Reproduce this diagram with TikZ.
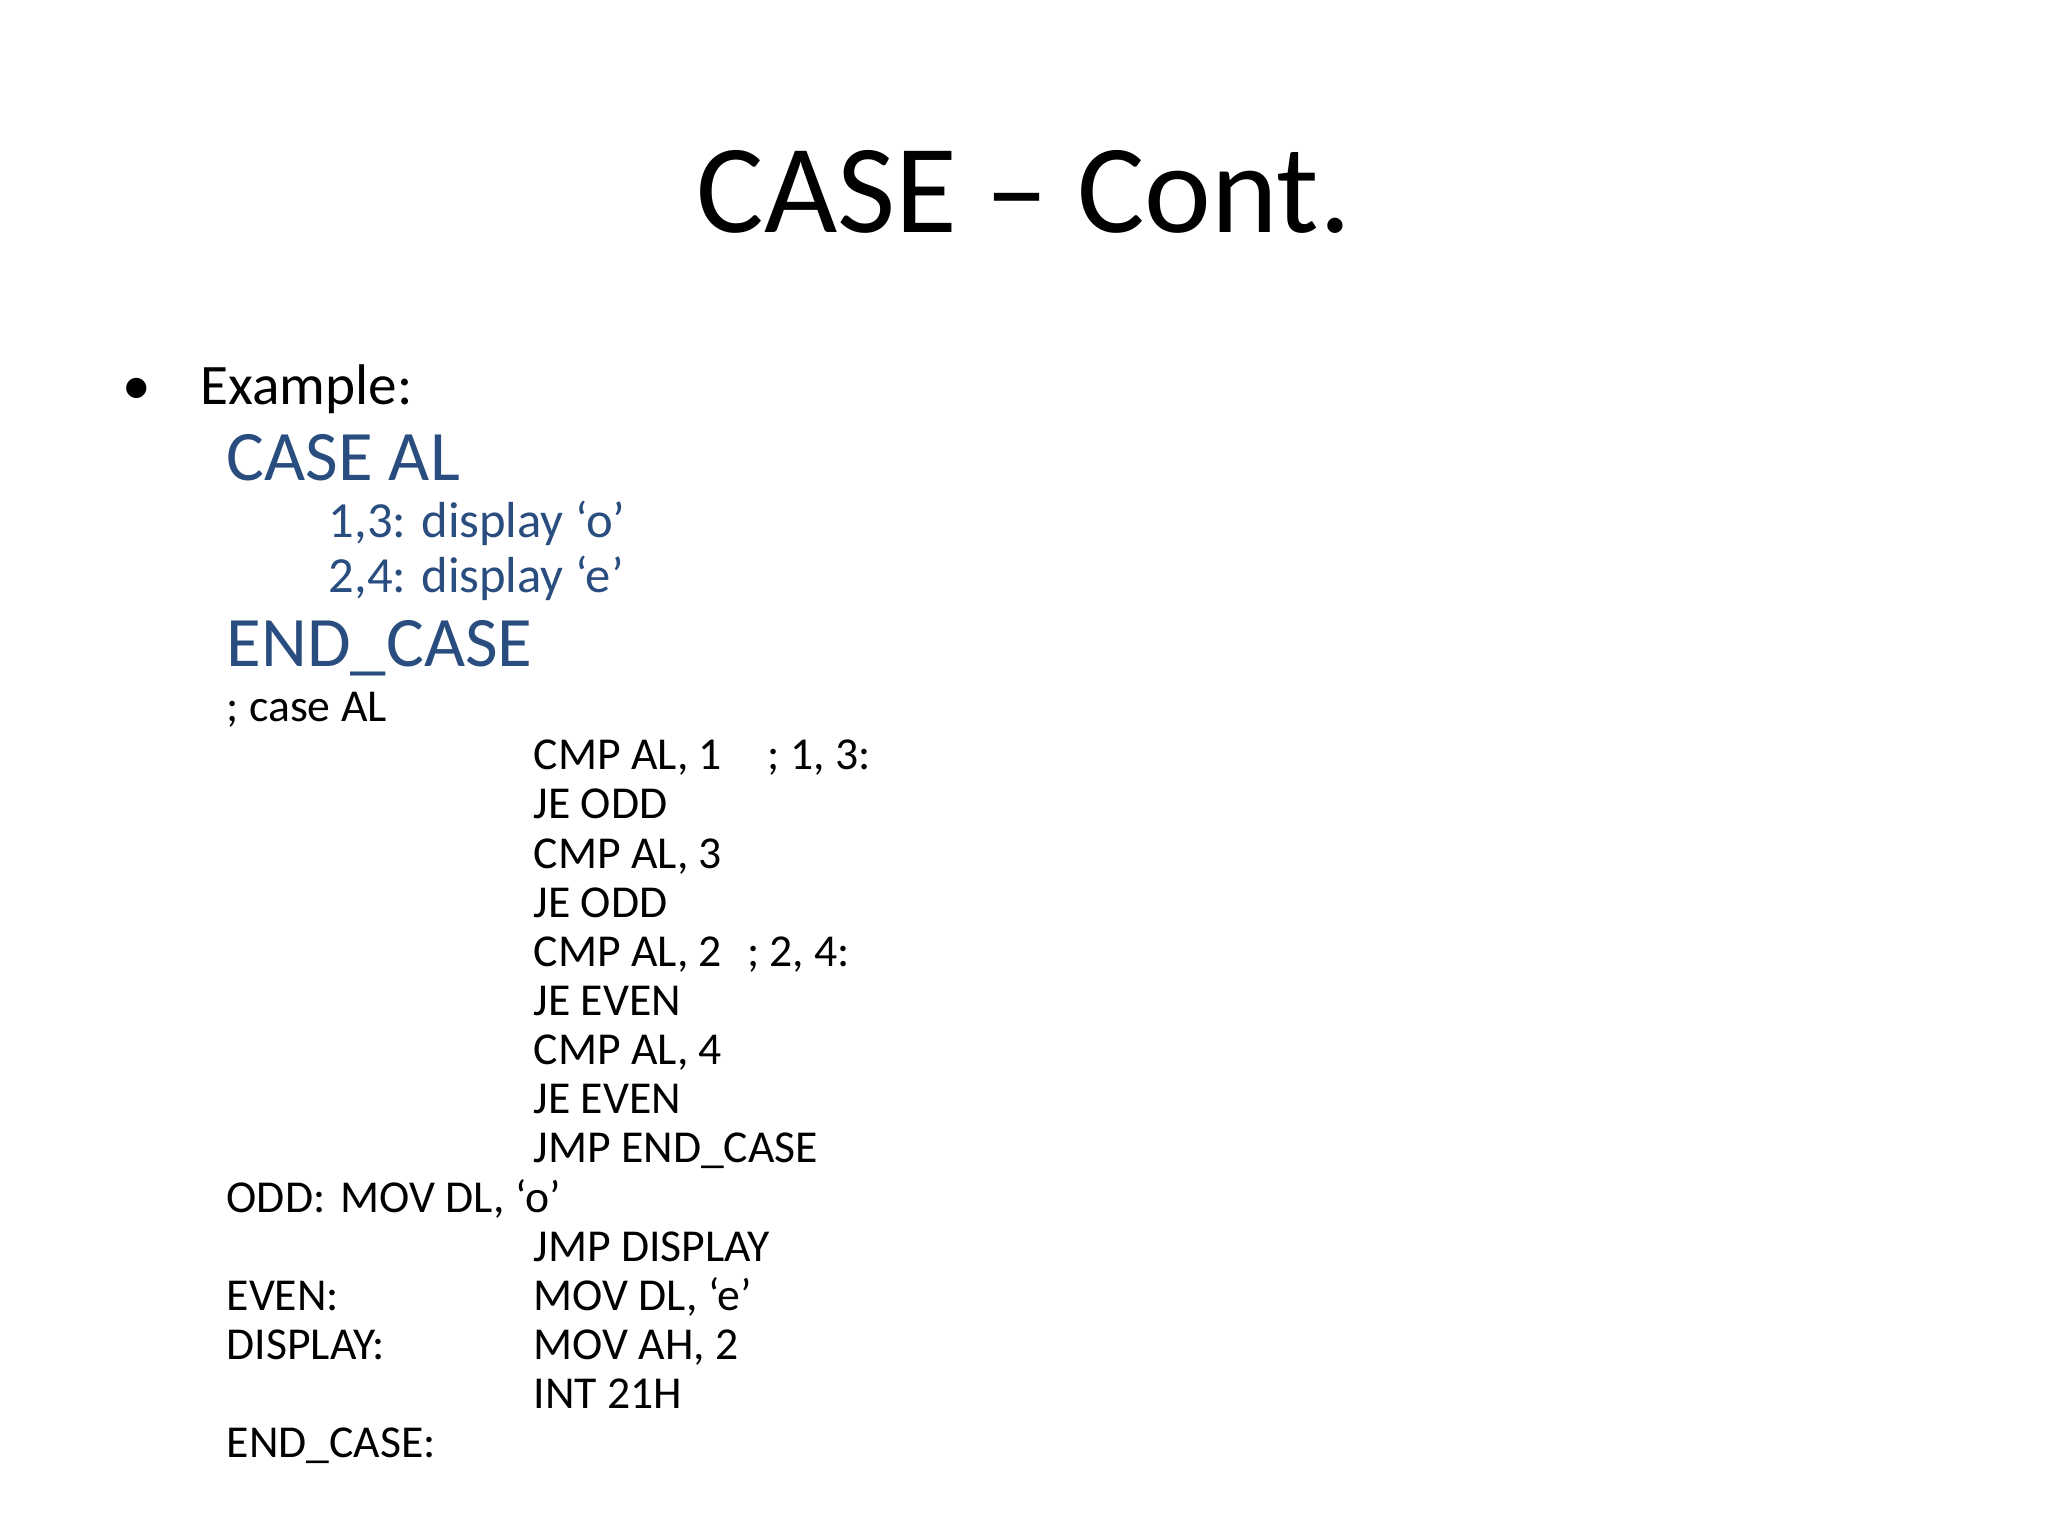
\documentclass[tikz,border=0pt]{standalone}
\usepackage{fontspec}
\setmainfont{Carlito}
\definecolor{slideblue}{HTML}{2A4D7F}
\begin{document}
\begin{tikzpicture}[x=1cm,y=1cm,
  txt/.style={anchor=base west,inner sep=0pt,font=\fontsize{16.3}{19}\selectfont},
  code/.style={anchor=base west,inner sep=0pt,font=\fontsize{13}{16}\selectfont},
  big/.style={anchor=base west,inner sep=0pt,text=slideblue,font=\fontsize{20.2}{24}\selectfont},
  sub/.style={anchor=base west,inner sep=0pt,text=slideblue,font=\fontsize{14.4}{17}\selectfont}]
\useasboundingbox (0,0) rectangle (20.48,-15.36);
\node[anchor=base,inner sep=0pt,font=\fontsize{36}{43}\selectfont] (title) at (10.24,-2.33) {CASE – Cont.};
\node[txt] (bul) at (1.22,-4.05) {•};
\node[txt] (ex) at (2.00,-4.05) {Example:};
\node[big] (case) at (2.26,-4.81) {CASE AL};
\node[sub] (c1) at (3.28,-5.38) {1,3: display ‘o’};
\node[sub] (c2) at (3.28,-5.93) {2,4: display ‘e’};
\node[big] (endc) at (2.26,-6.66) {END\_CASE};
\node[code] (cm) at (2.26,-7.21) {; case AL};
\foreach \t [count=\i] in {{CMP AL, 1\hspace{1.0em}; 1, 3:},JE ODD,{CMP AL, 3},JE ODD,{CMP AL, 2\hspace{0.55em}; 2, 4:},JE EVEN,{CMP AL, 4},JE EVEN,JMP END\_CASE}
  \node[code] (l\i) at (5.33,{-7.70-0.49*(\i-1)}) {\t};
\node[code] (odd) at (2.26,-12.12) {ODD:};
\node[code] (movo) at (3.40,-12.12) {MOV DL, ‘o’};
\node[code] (jd) at (5.33,-12.61) {JMP DISPLAY};
\node[code] (even) at (2.26,-13.10) {EVEN:};
\node[code] (move) at (5.33,-13.10) {MOV DL, ‘e’};
\node[code] (disp) at (2.26,-13.59) {DISPLAY:};
\node[code] (mah) at (5.33,-13.59) {MOV AH, 2};
\node[code] (int) at (5.33,-14.08) {INT 21H};
\node[code] (ec) at (2.26,-14.57) {END\_CASE:};
\end{tikzpicture}
\end{document}
